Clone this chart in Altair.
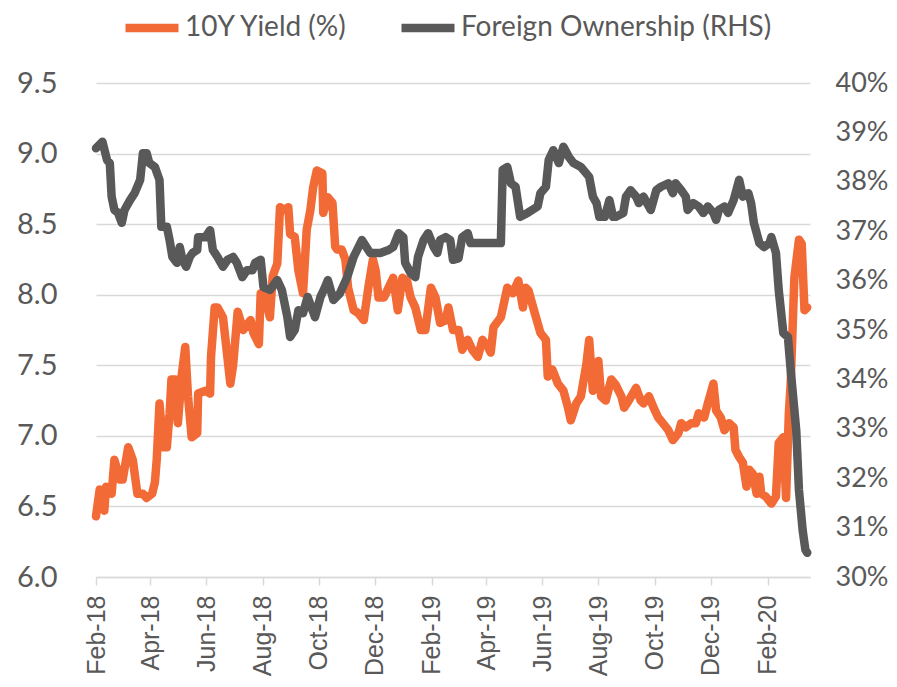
import altair as alt
import pandas as pd

# ---------------- data ----------------
series_names = ["10Y Yield (%)", "Foreign Ownership (RHS)"]

yield_dates = [
    "2018-02-01", "2018-02-05", "2018-02-10", "2018-02-12", "2018-02-18", "2018-02-21", "2018-02-27",
    "2018-03-02", "2018-03-08", "2018-03-13", "2018-03-18", "2018-03-24", "2018-03-28", "2018-04-03",
    "2018-04-06", "2018-04-08", "2018-04-11", "2018-04-15", "2018-04-19", "2018-04-22", "2018-04-24",
    "2018-04-28", "2018-05-01", "2018-05-05", "2018-05-09", "2018-05-12", "2018-05-16", "2018-05-22",
    "2018-05-23", "2018-05-31", "2018-06-05", "2018-06-06", "2018-06-10", "2018-06-13", "2018-06-19",
    "2018-06-27", "2018-06-30", "2018-07-05", "2018-07-11", "2018-07-19", "2018-07-22", "2018-07-28",
    "2018-07-30", "2018-08-04", "2018-08-09", "2018-08-12", "2018-08-17", "2018-08-20", "2018-08-25",
    "2018-08-29", "2018-08-31", "2018-09-05", "2018-09-09", "2018-09-14", "2018-09-18", "2018-09-22",
    "2018-09-25", "2018-09-29", "2018-10-05", "2018-10-06", "2018-10-11", "2018-10-16", "2018-10-19",
    "2018-10-21", "2018-10-26", "2018-10-30", "2018-11-02", "2018-11-08", "2018-11-13", "2018-11-19",
    "2018-11-24", "2018-11-29", "2018-12-02", "2018-12-05", "2018-12-11", "2018-12-16", "2018-12-21",
    "2018-12-26", "2018-12-31", "2019-01-05", "2019-01-09", "2019-01-14", "2019-01-20", "2019-01-25",
    "2019-01-31", "2019-02-05", "2019-02-10", "2019-02-16", "2019-02-19", "2019-02-24", "2019-03-02",
    "2019-03-06", "2019-03-12", "2019-03-17", "2019-03-23", "2019-03-28", "2019-04-03", "2019-04-06",
    "2019-04-09", "2019-04-17", "2019-04-24", "2019-04-30", "2019-05-06", "2019-05-11", "2019-05-14",
    "2019-05-17", "2019-05-23", "2019-05-30", "2019-06-05", "2019-06-07", "2019-06-12", "2019-06-18",
    "2019-06-24", "2019-06-29", "2019-07-02", "2019-07-08", "2019-07-13", "2019-07-19", "2019-07-22",
    "2019-07-26", "2019-08-01", "2019-08-04", "2019-08-09", "2019-08-15", "2019-08-20", "2019-08-26",
    "2019-08-29", "2019-09-03", "2019-09-11", "2019-09-16", "2019-09-19", "2019-09-25", "2019-09-30",
    "2019-10-05", "2019-10-10", "2019-10-16", "2019-10-21", "2019-10-27", "2019-10-30", "2019-11-04",
    "2019-11-10", "2019-11-15", "2019-11-18", "2019-11-24", "2019-11-28", "2019-12-04", "2019-12-07",
    "2019-12-12", "2019-12-16", "2019-12-21", "2019-12-26", "2019-12-28", "2020-01-01", "2020-01-05",
    "2020-01-09", "2020-01-12", "2020-01-16", "2020-01-20", "2020-01-23", "2020-01-25", "2020-01-30",
    "2020-02-05", "2020-02-10", "2020-02-13", "2020-02-18", "2020-02-21", "2020-02-24", "2020-02-26",
    "2020-03-01", "2020-03-06", "2020-03-09", "2020-03-12", "2020-03-15",
]
yield_vals = [
    6.43, 6.62, 6.47, 6.64, 6.59, 6.83, 6.69,
    6.69, 6.92, 6.83, 6.59, 6.59, 6.56, 6.59,
    6.67, 6.83, 7.23, 6.92, 6.92, 7.16, 7.40,
    7.40, 7.09, 7.42, 7.63, 7.28, 6.99, 7.02,
    7.30, 7.32, 7.30, 7.56, 7.91, 7.91, 7.84,
    7.37, 7.50, 7.88, 7.75, 7.82, 7.73, 7.65,
    8.01, 7.98, 7.84, 8.13, 8.22, 8.62, 8.60,
    8.62, 8.43, 8.41, 8.17, 8.01, 8.46, 8.60,
    8.76, 8.88, 8.86, 8.58, 8.69, 8.65, 8.34,
    8.32, 8.32, 8.25, 8.05, 7.89, 7.87, 7.82,
    8.05, 8.25, 8.17, 7.98, 7.98, 8.05, 8.12,
    7.89, 8.12, 8.10, 7.98, 7.91, 7.75, 7.75,
    8.05, 7.98, 7.80, 7.82, 7.91, 7.75, 7.75,
    7.61, 7.68, 7.61, 7.56, 7.68, 7.63, 7.59,
    7.77, 7.84, 8.05, 8.01, 8.10, 7.91, 8.05,
    8.03, 7.89, 7.73, 7.68, 7.42, 7.47, 7.37,
    7.32, 7.20, 7.11, 7.23, 7.28, 7.51, 7.68,
    7.32, 7.53, 7.28, 7.25, 7.40, 7.36, 7.28,
    7.20, 7.25, 7.34, 7.25, 7.23, 7.28, 7.20,
    7.13, 7.09, 7.04, 6.97, 7.02, 7.09, 7.06,
    7.09, 7.09, 7.16, 7.13, 7.23, 7.37, 7.18,
    7.13, 7.04, 7.09, 7.06, 6.90, 6.85, 6.81,
    6.64, 6.76, 6.73, 6.59, 6.71, 6.59, 6.57,
    6.52, 6.57, 6.95, 6.99, 6.56, 7.16, 7.37,
    8.12, 8.39, 8.36, 7.89, 7.91,
]

fo_dates = [
    "2018-02-01", "2018-02-08", "2018-02-13", "2018-02-16", "2018-02-18", "2018-02-21", "2018-02-25",
    "2018-03-01", "2018-03-04", "2018-03-10", "2018-03-15", "2018-03-21", "2018-03-24", "2018-03-28",
    "2018-03-31", "2018-04-06", "2018-04-11", "2018-04-13", "2018-04-19", "2018-04-22", "2018-04-25",
    "2018-04-30", "2018-05-03", "2018-05-06", "2018-05-10", "2018-05-14", "2018-05-17", "2018-05-22",
    "2018-05-23", "2018-05-31", "2018-06-05", "2018-06-08", "2018-06-13", "2018-06-19", "2018-06-24",
    "2018-06-30", "2018-07-04", "2018-07-10", "2018-07-15", "2018-07-21", "2018-07-24", "2018-07-30",
    "2018-08-02", "2018-08-09", "2018-08-17", "2018-08-22", "2018-08-28", "2018-08-31", "2018-09-05",
    "2018-09-09", "2018-09-14", "2018-09-19", "2018-09-27", "2018-10-03", "2018-10-08", "2018-10-11",
    "2018-10-17", "2018-10-24", "2018-11-01", "2018-11-08", "2018-11-17", "2018-11-26", "2018-12-07",
    "2018-12-16", "2018-12-21", "2018-12-27", "2019-01-01", "2019-01-03", "2019-01-09", "2019-01-14",
    "2019-01-17", "2019-01-23", "2019-01-28", "2019-02-03", "2019-02-07", "2019-02-10", "2019-02-16",
    "2019-02-21", "2019-02-24", "2019-03-02", "2019-03-06", "2019-03-12", "2019-03-15", "2019-04-17",
    "2019-04-19", "2019-04-24", "2019-04-28", "2019-05-03", "2019-05-08", "2019-05-16", "2019-05-27",
    "2019-05-30", "2019-06-05", "2019-06-08", "2019-06-13", "2019-06-19", "2019-06-24", "2019-06-30",
    "2019-07-05", "2019-07-13", "2019-07-22", "2019-07-26", "2019-07-30", "2019-08-02", "2019-08-08",
    "2019-08-13", "2019-08-17", "2019-08-20", "2019-08-28", "2019-08-31", "2019-09-05", "2019-09-11",
    "2019-09-14", "2019-09-19", "2019-09-27", "2019-10-03", "2019-10-08", "2019-10-16", "2019-10-21",
    "2019-10-24", "2019-10-30", "2019-11-04", "2019-11-06", "2019-11-12", "2019-11-18", "2019-11-23",
    "2019-11-28", "2019-12-04", "2019-12-07", "2019-12-10", "2019-12-16", "2019-12-20", "2019-12-26",
    "2019-12-29", "2020-01-01", "2020-01-05", "2020-01-11", "2020-01-14", "2020-01-17", "2020-01-23",
    "2020-01-28", "2020-02-03", "2020-02-05", "2020-02-10", "2020-02-13", "2020-02-18", "2020-02-23",
    "2020-02-26", "2020-03-03", "2020-03-06", "2020-03-10", "2020-03-13", "2020-03-15",
]
fo_vals = [
    38.68, 38.81, 38.44, 38.38, 37.70, 37.43, 37.37,
    37.17, 37.43, 37.63, 37.77, 38.04, 38.58, 38.58,
    38.38, 38.30, 38.04, 37.09, 37.09, 36.82, 36.48,
    36.36, 36.68, 36.42, 36.28, 36.48, 36.56, 36.62,
    36.88, 36.88, 37.02, 36.62, 36.48, 36.28, 36.42,
    36.48, 36.36, 36.07, 36.21, 36.21, 36.36, 36.42,
    35.87, 35.81, 36.01, 35.81, 35.26, 34.86, 35.00,
    35.40, 35.34, 35.67, 35.26, 35.67, 35.87, 36.01,
    35.61, 35.74, 36.07, 36.48, 36.82, 36.56, 36.56,
    36.62, 36.68, 36.96, 36.88, 36.36, 36.15, 36.07,
    36.48, 36.82, 36.96, 36.68, 36.56, 36.82, 36.88,
    36.82, 36.42, 36.45, 36.88, 36.96, 36.76, 36.76,
    38.24, 38.30, 37.97, 37.90, 37.29, 37.37, 37.50,
    37.77, 37.90, 38.44, 38.64, 38.38, 38.71, 38.50,
    38.38, 38.30, 38.10, 37.70, 37.57, 37.29, 37.29,
    37.63, 37.29, 37.29, 37.37, 37.70, 37.83, 37.70,
    37.57, 37.70, 37.43, 37.83, 37.90, 37.97, 37.77,
    37.97, 37.83, 37.70, 37.43, 37.57, 37.50, 37.37,
    37.50, 37.37, 37.23, 37.43, 37.50, 37.37, 37.63,
    37.83, 38.04, 37.70, 37.77, 37.57, 37.17, 36.76,
    36.68, 36.76, 36.88, 36.56, 35.81, 34.94, 34.86,
    34.19, 32.98, 31.76, 30.95, 30.55, 30.49,
]

left_ticks = [6.0, 6.5, 7.0, 7.5, 8.0, 8.5, 9.0, 9.5]
right_ticks = [30, 31, 32, 33, 34, 35, 36, 37, 38, 39, 40]
month_ticks = [(2018, 2), (2018, 4), (2018, 6), (2018, 8), (2018, 10), (2018, 12),
               (2019, 2), (2019, 4), (2019, 6), (2019, 8), (2019, 10), (2019, 12), (2020, 2)]

# ---------------- styling ----------------
ORANGE = "#F26A35"
GREY = "#595959"
TEXT = "#595959"
GRID = "#D9D9D9"

ydf = pd.DataFrame({"date": yield_dates, "value": yield_vals, "series": series_names[0]})
fdf = pd.DataFrame({"date": fo_dates, "value": fo_vals, "series": series_names[1]})

x_enc = alt.X(
    "date:T",
    title=None,
    scale=alt.Scale(type="utc", domain=[alt.DateTime(year=2018, month=2, date=1, utc=True),
                                        alt.DateTime(year=2020, month=3, date=18, utc=True)]),
    axis=alt.Axis(
        values=[alt.DateTime(year=y, month=m, date=1, utc=True) for y, m in month_ticks],
        labelExpr="utcFormat(datum.value, '%b-%y')", labelAngle=270,
        labelFont="Liberation Sans", labelFontSize=25, labelColor=TEXT,
        labelPadding=10, labelOverlap=False,
        domainColor=GRID, domainWidth=1.5, tickColor=GRID, tickWidth=1.5, tickSize=8,
        grid=False,
    ),
)

color_enc = alt.Color(
    "series:N",
    scale=alt.Scale(domain=series_names, range=[ORANGE, GREY]),
    legend=alt.Legend(
        title=None, orient="none", legendX=25, legendY=-86, direction="horizontal",
        symbolType="stroke", symbolSize=2809, symbolStrokeWidth=8.5,
        labelFont="Lato", labelFontSize=28, labelColor=TEXT, labelLimit=0,
        labelOffset=2, columnPadding=36,
    ),
)

yield_line = alt.Chart(ydf).mark_line(strokeWidth=8.5, strokeJoin="round", strokeCap="round").encode(
    x=x_enc,
    y=alt.Y(
        "value:Q", title=None,
        scale=alt.Scale(domain=[6.0, 9.5], nice=False, zero=False),
        axis=alt.Axis(
            orient="left", values=left_ticks, format=".1f",
            labelFont="Lato", labelFontSize=29, labelColor=TEXT, labelPadding=39,
            grid=True, gridColor=GRID, gridWidth=1.5, domain=False, ticks=False,
        ),
    ),
    color=color_enc,
)

fo_line = alt.Chart(fdf).mark_line(strokeWidth=8.5, strokeJoin="round", strokeCap="round").encode(
    x=x_enc,
    y=alt.Y(
        "value:Q", title=None,
        scale=alt.Scale(domain=[30, 40], nice=False, zero=False),
        axis=alt.Axis(
            orient="right", values=right_ticks, labelExpr="datum.value + '%'",
            labelFont="Lato", labelFontSize=27, labelColor=TEXT, labelPadding=25,
            grid=False, domain=False, ticks=False,
        ),
    ),
    color=color_enc,
)

chart = (
    alt.layer(yield_line, fo_line)
    .resolve_scale(y="independent")
    .properties(
        width=714, height=494,
        autosize=alt.AutoSizeParams(type="none"),
        padding={"left": 88, "top": 75, "right": 79, "bottom": 100},
        background="white",
    )
    .configure_view(stroke=None)
)

chart.save("out.html", embed_options={"renderer": "svg", "actions": False})
